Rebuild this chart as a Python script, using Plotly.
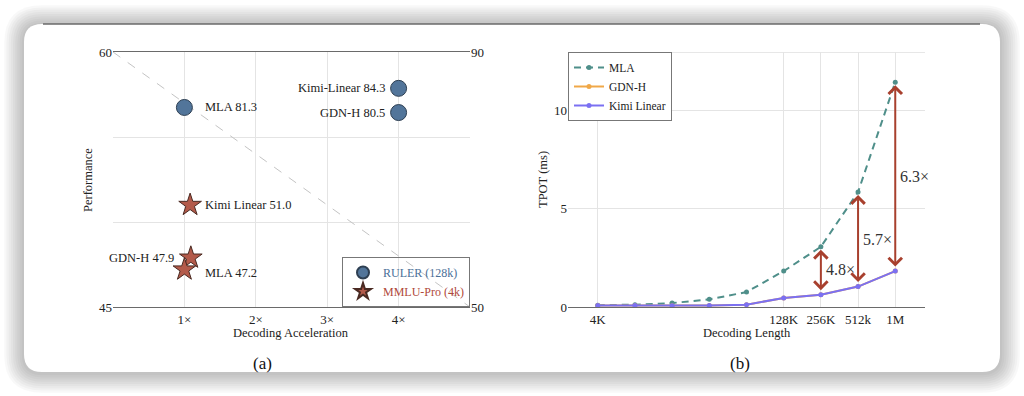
import plotly.graph_objects as go

W, H = 1024, 396

# ---------------- data ----------------
# (a) scatter
ruler_models = ["MLA", "Kimi-Linear", "GDN-H"]
ruler_accel = [1.0, 4.0, 4.0]
ruler_score = [81.3, 84.3, 80.5]

mmlu_models = ["Kimi Linear", "GDN-H", "MLA"]
mmlu_accel = [1.08, 1.09, 1.0]
mmlu_score = [51.0, 47.9, 47.2]

accel_ticks = [1, 2, 3, 4]
accel_ticktext = ["1×", "2×", "3×", "4×"]

# (b) TPOT lines
lengths = ["4K", "8K", "16K", "32K", "64K", "128K", "256K", "512k", "1M"]
shown_lengths = ["4K", "128K", "256K", "512k", "1M"]
tpot_mla = [0.09, 0.12, 0.2, 0.39, 0.76, 1.83, 3.07, 5.86, 11.46]
tpot_gdn = [0.08, 0.08, 0.07, 0.08, 0.12, 0.46, 0.63, 1.04, 1.83]
tpot_kimi = [0.08, 0.08, 0.07, 0.08, 0.12, 0.46, 0.63, 1.04, 1.83]
speedup_at = ["256K", "512k", "1M"]
speedup_text = ["4.8×", "5.7×", "6.3×"]
speedup_label_y = [1.9, 3.45, 6.65]

# ---------------- styling ----------------
SERIF = "Liberation Serif, Times New Roman, serif"
BLUE = "#52759a"
BLUE_TXT = "#4a6f98"
RED = "#b35a4a"
RED_TXT = "#b0493a"
TEAL = "#4f8f8a"
ORANGE = "#f0a848"
PURPLE = "#7b70f2"
ARROW = "#a8402e"
GRID = "#e4e4e4"


def px(x):
    return x / W


def py(y):
    return 1 - y / H


def rrect(x0, y0, x1, y1, r):
    pts = [
        f"M {px(x0 + r)},{py(y0)}",
        f"L {px(x1 - r)},{py(y0)}",
        f"Q {px(x1)},{py(y0)} {px(x1)},{py(y0 + r)}",
        f"L {px(x1)},{py(y1 - r)}",
        f"Q {px(x1)},{py(y1)} {px(x1 - r)},{py(y1)}",
        f"L {px(x0 + r)},{py(y1)}",
        f"Q {px(x0)},{py(y1)} {px(x0)},{py(y1 - r)}",
        f"L {px(x0)},{py(y0 + r)}",
        f"Q {px(x0)},{py(y0)} {px(x0 + r)},{py(y0)}",
        "Z",
    ]
    return " ".join(pts)


fig = go.Figure()

# ---- (a) ----
fig.add_trace(go.Scatter(
    x=[0, 5], y=[60, 45], mode="lines", xaxis="x", yaxis="y",
    line=dict(color="#c4c4c4", width=1, dash="dash"), showlegend=False, hoverinfo="skip"))

fig.add_trace(go.Scatter(
    x=ruler_accel, y=ruler_score, mode="markers", xaxis="x", yaxis="y2",
    name=f"<span style='color:{BLUE_TXT}'>RULER (128k)</span>",
    marker=dict(symbol="circle", size=16, color=BLUE, line=dict(color="#2e3f52", width=1)),
    legend="legend"))

fig.add_trace(go.Scatter(
    x=mmlu_accel, y=mmlu_score, mode="markers", xaxis="x", yaxis="y",
    name=f"<span style='color:{RED_TXT}'>MMLU-Pro (4k)</span>",
    marker=dict(symbol="star", size=17, color=RED, line=dict(color="#4a2a22", width=1)),
    legend="legend"))

# ---- (b) ----
fig.add_trace(go.Scatter(
    x=lengths, y=tpot_mla, mode="lines+markers", xaxis="x3", yaxis="y3", name="MLA",
    line=dict(color=TEAL, width=2, dash="7px,5px"), marker=dict(size=5, color=TEAL),
    legend="legend2"))
fig.add_trace(go.Scatter(
    x=lengths, y=tpot_gdn, mode="lines+markers", xaxis="x3", yaxis="y3", name="GDN-H",
    line=dict(color=ORANGE, width=2), marker=dict(size=5, color=ORANGE),
    legend="legend2"))
fig.add_trace(go.Scatter(
    x=lengths, y=tpot_kimi, mode="lines+markers", xaxis="x3", yaxis="y3", name="Kimi Linear",
    line=dict(color=PURPLE, width=2), marker=dict(size=5, color=PURPLE),
    legend="legend2"))

annotations = []
tf = dict(family=SERIF, size=12.5, color="#222")

# (a) point labels
ruler_label_pos = {"MLA": ("left", 19), "Kimi-Linear": ("right", -12), "GDN-H": ("right", -12)}
for m, xv, yv in zip(ruler_models, ruler_accel, ruler_score):
    anc, sh = ruler_label_pos[m]
    annotations.append(dict(x=xv, y=yv, xref="x", yref="y2", text=f"{m} {yv}",
                            showarrow=False, xanchor=anc, yanchor="middle", xshift=sh, font=tf))
mmlu_label_pos = {"Kimi Linear": ("left", 19, 0), "GDN-H": ("right", -8, 0), "MLA": ("left", 19, -3)}
for m, xv, yv in zip(mmlu_models, mmlu_accel, mmlu_score):
    anc, sh, ys = mmlu_label_pos[m]
    annotations.append(dict(x=1.0, y=yv, xref="x", yref="y", text=f"{m} {yv:.1f}",
                            showarrow=False, xanchor=anc, yanchor="middle",
                            xshift=sh, yshift=ys, font=tf))

# (b) arrows and speedup labels
for lab, txt, ly in zip(speedup_at, speedup_text, speedup_label_y):
    i = lengths.index(lab)
    annotations.append(dict(
        x=i, y=tpot_mla[i], ax=i, ay=tpot_kimi[i], xref="x3", yref="y3",
        axref="x3", ayref="y3", text="", showarrow=True, arrowside="end+start",
        arrowhead=4, startarrowhead=4, arrowsize=1.3, startarrowsize=1.3,
        arrowwidth=2, arrowcolor=ARROW, standoff=3, startstandoff=3))
    annotations.append(dict(x=i + 0.08, y=ly, xref="x3", yref="y3", text=txt,
                            showarrow=False, xanchor="left", yanchor="middle",
                            font=dict(family=SERIF, size=16, color="#333")))

# axis titles and panel labels
at = dict(family=SERIF, size=12.5, color="#222")
C = dict(xref="paper", yref="paper", showarrow=False, xanchor="center", yanchor="middle")
annotations += [
    dict(x=px(291), y=py(333), text="Decoding Acceleration", font=at, **C),
    dict(x=px(88), y=py(180), text="Performance", textangle=-90, font=at, **C),
    dict(x=px(747), y=py(333), text="Decoding Length", font=at, **C),
    dict(x=px(543), y=py(180), text="TPOT (ms)", textangle=-90, font=at, **C),
    dict(x=px(262), y=py(363), text="(a)", font=dict(family=SERIF, size=17, color="#111"), **C),
    dict(x=px(740), y=py(363), text="(b)", font=dict(family=SERIF, size=17, color="#111"), **C),
]

# background card with soft shadow
shapes = []
for k in range(9, 0, -1):
    e = k * 2.2
    shapes.append(dict(type="path", path=rrect(24 - e, 24 - e + 1, 1000 + e, 372 + e + 1, 18 + e),
                       xref="paper", yref="paper", fillcolor="rgba(0,0,0,0.028)",
                       line=dict(width=0), layer="below"))
shapes.append(dict(type="path", path=rrect(24, 24, 1000, 372, 18), xref="paper", yref="paper",
                   fillcolor="white", line=dict(width=0), layer="below"))
shapes.append(dict(type="line", x0=px(43), x1=px(980), y0=py(24), y1=py(24),
                   xref="paper", yref="paper", line=dict(color="#6a6a6a", width=1.5), layer="below"))
# top border of panel (b)
shapes.append(dict(type="line", x0=0, x1=1, xref="x3 domain", y0=13, y1=13, yref="y3",
                   line=dict(color="#cfcfcf", width=1), layer="below"))

ydom = [py(307), py(52)]
tick_font = dict(family=SERIF, size=13, color="#222")

fig.update_layout(
    width=W, height=H,
    margin=dict(l=0, r=0, t=0, b=0, autoexpand=False),
    paper_bgcolor="white", plot_bgcolor="rgba(0,0,0,0)",
    font=dict(family=SERIF, color="#222"),
    xaxis=dict(domain=[px(113), px(470)], anchor="y", range=[0, 5], automargin=False,
               tickvals=accel_ticks, ticktext=accel_ticktext, showgrid=True, gridcolor=GRID,
               showline=True, linecolor="#6a6a6a", linewidth=1.2, mirror=True,
               zeroline=False, ticks="", tickfont=tick_font),
    yaxis=dict(domain=ydom, anchor="x", range=[45, 60], tickvals=[45, 50, 55, 60],
               automargin=False,
               ticktext=["45", "", "", "60"], showgrid=True, gridcolor=GRID,
               zeroline=False, showline=False, ticks="", tickfont=tick_font),
    yaxis2=dict(overlaying="y", side="right", anchor="x", range=[50, 90], automargin=False,
                tickvals=[50, 90], showgrid=False, zeroline=False, showline=False,
                ticks="", tickfont=tick_font),
    xaxis3=dict(domain=[px(568), px(925)], anchor="y3", type="category", automargin=False,
                range=[-0.8, 8.8], tickvals=shown_lengths, ticktext=shown_lengths,
                showgrid=True, gridcolor=GRID, showline=True, linecolor="#6a6a6a",
                linewidth=1.2, zeroline=False, ticks="", tickfont=tick_font),
    yaxis3=dict(domain=ydom, anchor="x3", range=[0, 13], tickvals=[0, 5, 10], automargin=False,
                showgrid=True, gridcolor=GRID, zeroline=False, showline=False,
                ticks="", tickfont=tick_font),
    legend=dict(x=px(470), y=py(307), xanchor="right", yanchor="bottom",
                bgcolor="rgba(255,255,255,0)", bordercolor="#777", borderwidth=1,
                font=dict(family=SERIF, size=12), itemwidth=30, itemsizing="constant",
                tracegroupgap=0),
    legend2=dict(x=px(568), y=py(52), xanchor="left", yanchor="top",
                 bgcolor="rgba(255,255,255,1)", bordercolor="#777", borderwidth=1,
                 font=dict(family=SERIF, size=11.5, color="#222"), itemwidth=30,
                 tracegroupgap=0),
    annotations=annotations,
    shapes=shapes,
    showlegend=True,
)

fig.write_html("out.html", config={"displayModeBar": False},
               post_script="document.body.style.margin='0';")
